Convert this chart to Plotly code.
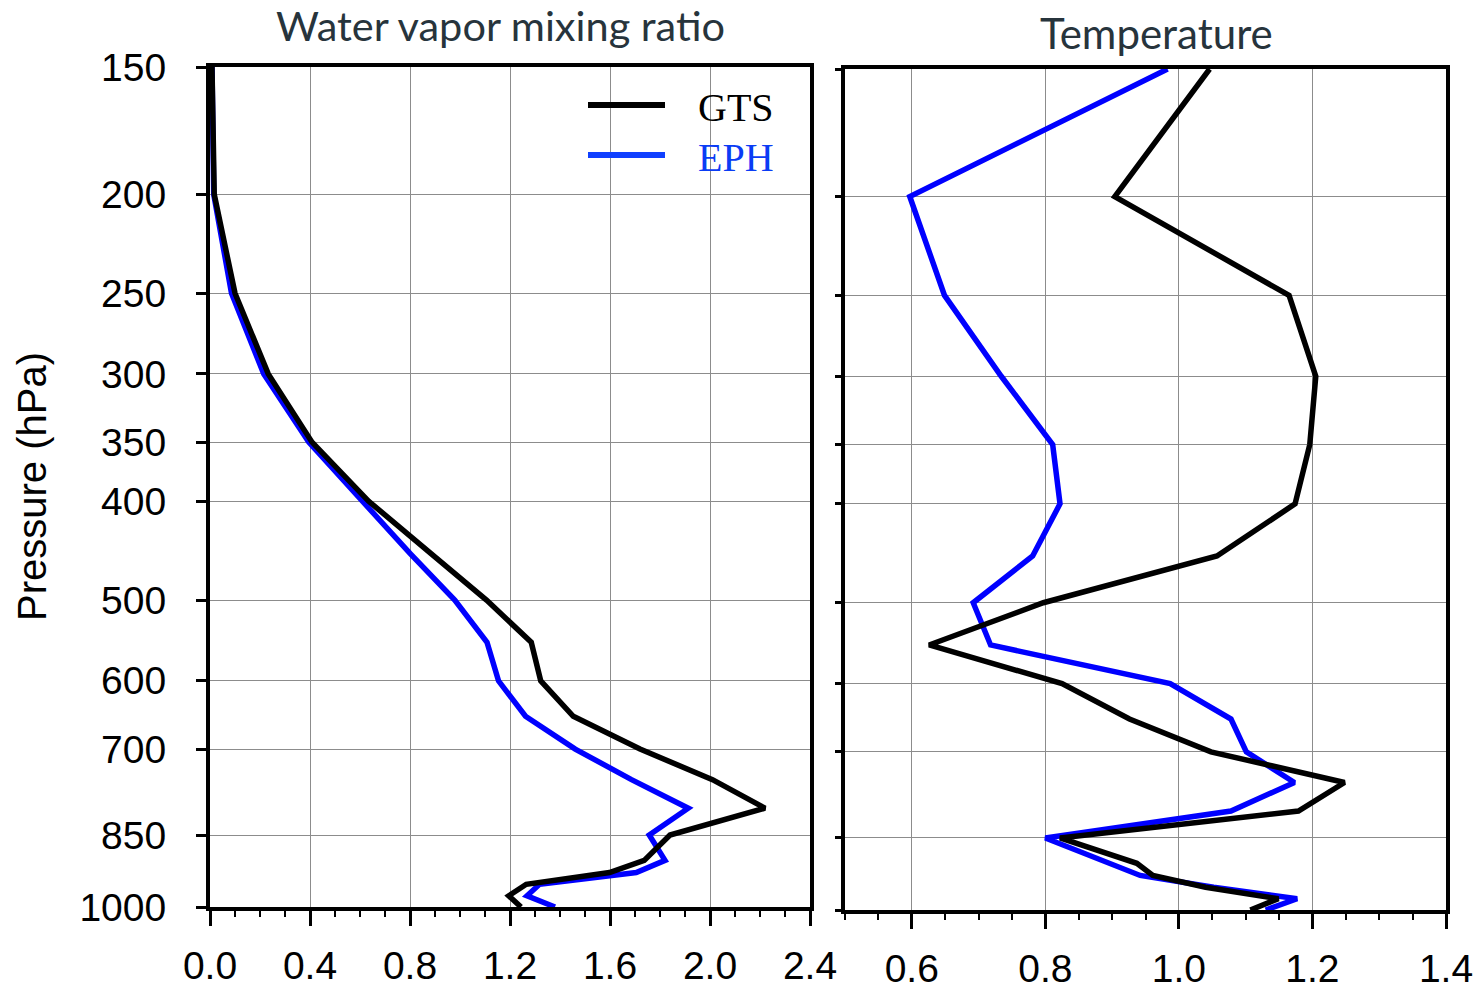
import math
import plotly.graph_objects as go

# ---------------- data ----------------
pressure = [150, 200, 250, 300, 350, 400, 450, 500, 550, 600, 650, 700, 750,
            800, 850, 900, 925, 950, 975, 1000]

wv_gts = [0.008, 0.017, 0.100, 0.233, 0.408, 0.635, 0.883, 1.106, 1.285, 1.323,
          1.453, 1.720, 2.010, 2.220, 1.840, 1.737, 1.598, 1.265, 1.195, 1.244]
wv_eph = [0.008, 0.015, 0.086, 0.215, 0.395, 0.612, 0.800, 0.979, 1.108, 1.154,
          1.262, 1.461, 1.686, 1.913, 1.757, 1.820, 1.705, 1.318, 1.268, 1.380]

t_gts = [1.046, 0.904, 1.165, 1.205, 1.196, 1.174, 1.057, 0.797, 0.626, 0.825,
         0.926, 1.048, 1.248, 1.179, 0.822, 0.937, 0.961, 1.040, 1.149, 1.107]
t_eph = [0.983, 0.597, 0.649, 0.734, 0.811, 0.822, 0.781, 0.692, 0.718, 0.987,
         1.078, 1.101, 1.173, 1.078, 0.800, 0.893, 0.942, 1.052, 1.177, 1.130]

p_ticks = [150, 200, 250, 300, 350, 400, 500, 600, 700, 850, 1000]
wv_ticks = [0.0, 0.4, 0.8, 1.2, 1.6, 2.0, 2.4]
t_ticks = [0.6, 0.8, 1.0, 1.2, 1.4]

series_names = ["GTS", "EPH"]
series_colors = ["#000000", "#0000ff"]
legend_line_colors = ["#000000", "#1040ff"]
legend_text_colors = ["#000000", "#0a3cf5"]

# ---------------- figure ----------------
W, H = 1478, 990
fig = go.Figure()

# EPH first so GTS (black) is drawn on top, as in the reference
order = [1, 0]
for i in order:
    fig.add_trace(go.Scatter(x=[wv_gts, wv_eph][i], y=pressure, mode="lines",
                             name=series_names[i],
                             line=dict(color=series_colors[i], width=5.5),
                             xaxis="x", yaxis="y", showlegend=False))
for i in order:
    fig.add_trace(go.Scatter(x=[t_gts, t_eph][i], y=pressure, mode="lines",
                             name=series_names[i],
                             line=dict(color=series_colors[i], width=5.5),
                             xaxis="x2", yaxis="y2", showlegend=False))

tick_font = dict(family="Liberation Sans, Arial, sans-serif", size=39, color="black")
grid_col = "#8c8c8c"
yrange = [math.log10(1000), math.log10(150)]


def px(x):
    return x / W


def py(y):
    return 1 - y / H


common_x = dict(showline=True, mirror=True, linewidth=4, linecolor="black",
                ticks="outside", ticklen=15, tickwidth=3, tickcolor="black",
                showgrid=True, gridcolor=grid_col, gridwidth=1, zeroline=False,
                tickfont=tick_font, ticklabelstandoff=6, automargin=False)

fig.update_layout(
    width=W, height=H,
    margin=dict(l=0, r=0, t=0, b=0, pad=0, autoexpand=False),
    paper_bgcolor="white", plot_bgcolor="white",
    showlegend=False,
    xaxis=dict(domain=[px(210), px(810)], range=[0, 2.4],
               tickvals=wv_ticks, ticktext=[f"{v:.1f}" for v in wv_ticks],
               minor=dict(dtick=0.1, tick0=0, ticks="outside", ticklen=6,
                          tickwidth=1.5, tickcolor="black", showgrid=False),
               anchor="y", **common_x),
    yaxis=dict(domain=[py(907), py(67)], type="log", range=yrange,
               tickvals=p_ticks, ticktext=[str(v) for v in p_ticks],
               showline=True, mirror=True, linewidth=4, linecolor="black",
               ticks="outside", ticklen=10, tickwidth=3, tickcolor="black",
               showgrid=True, gridcolor=grid_col, gridwidth=1, zeroline=False,
               tickfont=tick_font, ticklabelstandoff=22, automargin=False,
               anchor="x"),
    xaxis2=dict(domain=[px(845), px(1446)], range=[0.5, 1.4],
                tickvals=t_ticks, ticktext=[f"{v:.1f}" for v in t_ticks],
                minor=dict(dtick=0.05, tick0=0.5, ticks="outside", ticklen=6,
                           tickwidth=1.5, tickcolor="black", showgrid=False),
                anchor="y2", **common_x),
    yaxis2=dict(domain=[py(910), py(69)], type="log", range=yrange,
                tickvals=p_ticks, showticklabels=False,
                showline=True, mirror=True, linewidth=4, linecolor="black",
                ticks="outside", ticklen=6, tickwidth=3, tickcolor="black",
                showgrid=True, gridcolor=grid_col, gridwidth=1, zeroline=False,
                automargin=False, anchor="x2"),
)

annotations = [
    dict(text="Water vapor mixing ratio", x=px(500), y=py(25), xref="paper",
         yref="paper", showarrow=False,
         font=dict(family="Lato, Open Sans, sans-serif", size=41.5, color="#27343c"),
         xanchor="center", yanchor="middle"),
    dict(text="Temperature", x=px(1156), y=py(33), xref="paper", yref="paper",
         showarrow=False,
         font=dict(family="Lato, Open Sans, sans-serif", size=42, color="#27343c"),
         xanchor="center", yanchor="middle"),
    dict(text="Pressure (hPa)", x=px(32), y=py(487), xref="paper", yref="paper",
         showarrow=False, textangle=-90,
         font=dict(family="Liberation Sans, Arial, sans-serif", size=40, color="black"),
         xanchor="center", yanchor="middle"),
]

# legend (drawn inside the left panel, as in the reference)
shapes = []
leg_y = [105, 155]
for name, lcol, tcol, yy in zip(series_names, legend_line_colors, legend_text_colors, leg_y):
    shapes.append(dict(type="line", xref="paper", yref="paper",
                       x0=px(588), x1=px(665), y0=py(yy), y1=py(yy),
                       line=dict(color=lcol, width=6)))
    annotations.append(dict(text=name, x=px(696), y=py(yy + 2), xref="paper",
                            yref="paper", showarrow=False, xanchor="left",
                            yanchor="middle",
                            font=dict(family="Liberation Serif, Times New Roman, serif",
                                      size=40, color=tcol)))

fig.update_layout(annotations=annotations, shapes=shapes)

fig.write_html("out.html")
